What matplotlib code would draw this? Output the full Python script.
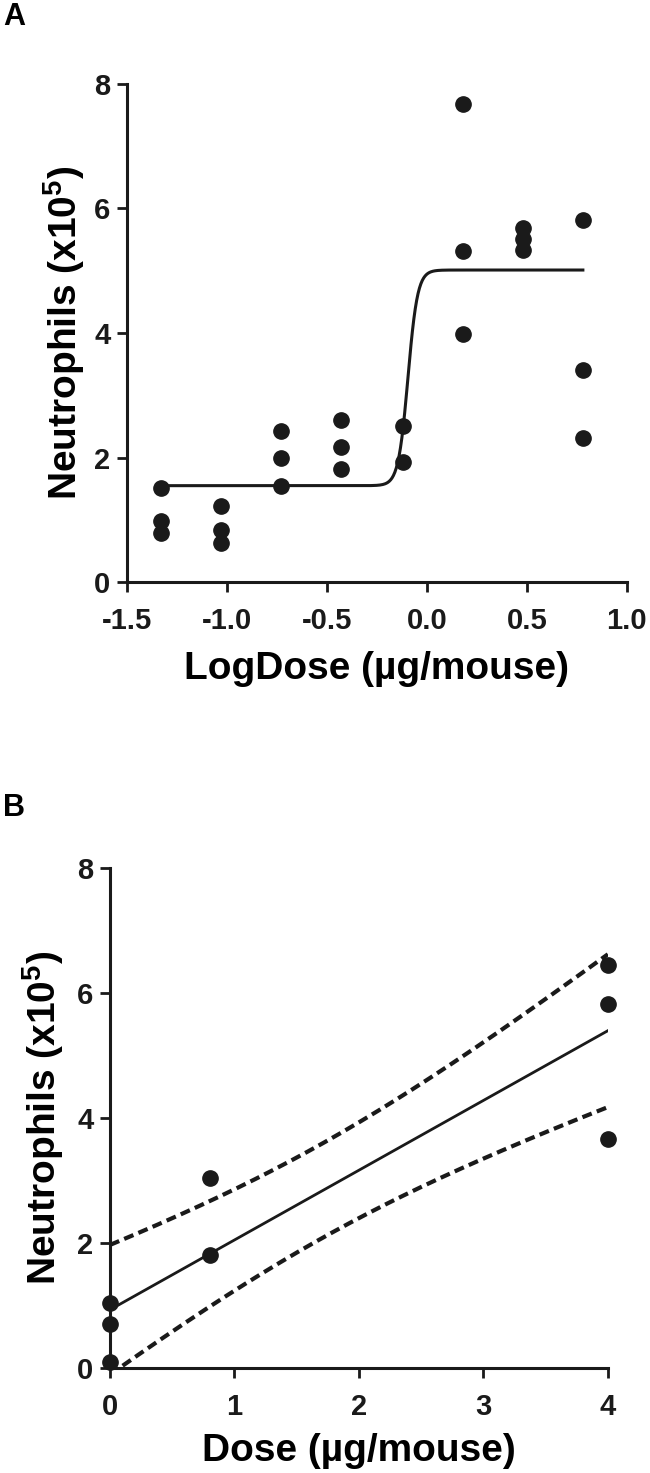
import numpy as np
import matplotlib
matplotlib.use("Agg")
import matplotlib.pyplot as plt

plt.rcParams['font.family'] = ['Liberation Sans', 'DejaVu Sans']
plt.rcParams['font.weight'] = 'bold'
plt.rcParams['axes.unicode_minus'] = False
plt.rcParams['mathtext.fontset'] = 'custom'
plt.rcParams['mathtext.rm'] = 'Liberation Sans:bold'
plt.rcParams['mathtext.bf'] = 'Liberation Sans:bold'

# panel A: log dose response, three mice per dose
logdose = [-1.33, -1.03, -0.73, -0.43, -0.12, 0.18, 0.48, 0.78]
neut_a = [[1.52, 0.99, 0.79],
          [1.23, 0.84, 0.63],
          [2.43, 2.00, 1.55],
          [2.61, 2.17, 1.82],
          [2.51, 1.93],
          [7.67, 5.31, 3.99],
          [5.68, 5.51, 5.33],
          [5.81, 3.41, 2.31]]
# sigmoid fit
fit_bottom = 1.55
fit_top = 5.01
fit_logec50 = -0.095
fit_hill = 18

# panel B: linear dose
dose_b = [0, 0, 0, 0.8, 0.8, 4, 4, 4]
neut_b = [1.03, 0.70, 0.09, 3.04, 1.80, 6.46, 5.83, 3.67]
band_t = 2.05

xticks_a = [-1.5, -1.0, -0.5, 0.0, 0.5, 1.0]
xticks_b = [0, 1, 2, 3, 4]
yticks = [0, 2, 4, 6, 8]

fig = plt.figure(figsize=(6.5, 14.73), dpi=100)
axA = fig.add_axes([0.1954, 0.6047, 0.769, 0.3385])
axB = fig.add_axes([0.1692, 0.0716, 0.766, 0.3388])


def style(ax, ylpad):
    for s in ['top', 'right']:
        ax.spines[s].set_visible(False)
    for s in ['left', 'bottom']:
        ax.spines[s].set_linewidth(2.2)
        ax.spines[s].set_color('#1a1a1a')
    ax.tick_params(direction='out', length=7, width=2.0, labelsize=21, colors='#1a1a1a')
    ax.tick_params(axis='x', pad=11)
    ax.tick_params(axis='y', pad=5)
    for lab in ax.get_xticklabels() + ax.get_yticklabels():
        lab.set_fontweight('bold')
    ax.set_ylim(0, 8)
    ax.set_yticks(yticks)
    ax.set_ylabel(r'Neutrophils (x10$^{5}$)', fontsize=28, fontweight='bold', labelpad=ylpad)


# A
for x, ys in zip(logdose, neut_a):
    axA.plot([x] * len(ys), ys, 'o', color='#1a1a1a', ms=11, clip_on=False)
xs = np.linspace(logdose[0], logdose[-1], 600)
ys = fit_bottom + (fit_top - fit_bottom) / (1 + 10 ** ((fit_logec50 - xs) * fit_hill))
axA.plot(xs, ys, '-', color='#1a1a1a', lw=2.2)
axA.set_xlim(-1.5, 1.0)
axA.set_xticks(xticks_a)
axA.set_xticklabels([f'{t:.1f}' for t in xticks_a])
axA.set_xlabel('LogDose (µg/mouse)', fontsize=28, fontweight='bold', labelpad=11)
style(axA, 5)

# B
xb = np.array(dose_b, dtype=float)
yb = np.array(neut_b)
slope, icept = np.polyfit(xb, yb, 1)
resid = yb - (slope * xb + icept)
s = np.sqrt(np.sum(resid ** 2) / (len(xb) - 2))
sxx = np.sum((xb - xb.mean()) ** 2)
xl = np.linspace(0, 4, 200)
yl = slope * xl + icept
half = band_t * s * np.sqrt(1 / len(xb) + (xl - xb.mean()) ** 2 / sxx)
axB.plot(xl, yl, '-', color='#1a1a1a', lw=2.0)
axB.plot(xl, yl + half, '--', color='#1a1a1a', lw=3, dashes=(2.4, 1.3))
axB.plot(xl, yl - half, '--', color='#1a1a1a', lw=3, dashes=(2.4, 1.3))
axB.plot(xb, yb, 'o', color='#1a1a1a', ms=11, clip_on=False, zorder=5)
axB.set_xlim(0, 4)
axB.set_xticks(xticks_b)
axB.set_xlabel('Dose (µg/mouse)', fontsize=28, fontweight='bold', labelpad=9)
style(axB, 8)

fig.text(0.005, 0.9985, 'A', fontsize=22, fontweight='bold', va='top', ha='left')
fig.text(0.005, 0.4615, 'B', fontsize=22, fontweight='bold', va='top', ha='left')

fig.savefig('out.png', dpi=100)
